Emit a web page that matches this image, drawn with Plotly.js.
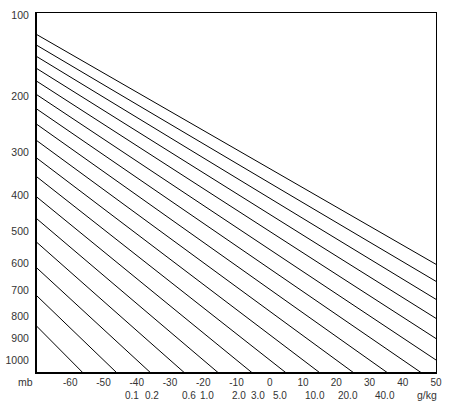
<!DOCTYPE html>
<html>
<head>
<meta charset="utf-8">
<script src="https://cdn.plot.ly/plotly-3.0.1.min.js"></script>
<style>html,body{margin:0;padding:0;background:#fff;}#chart{width:451px;height:406px;}</style>
</head>
<body>
<div id="chart"></div>
<script>
// Dry adiabats (potential temperature, deg C) drawn on the chart
const thetaC = [-60, -50, -40, -30, -20, -10, 0, 10, 20, 30, 40, 50, 60, 70, 80, 90, 100];
// Pressure axis ticks (mb)
const pressureTicks = [100, 200, 300, 400, 500, 600, 700, 800, 900, 1000];
const pressureLabels = ['100', '200', '300', '400', '500', '600', '700', '800', '900', '1000'];
// Temperature axis ticks (deg C)
const tempTicks = [-60, -50, -40, -30, -20, -10, 0, 10, 20, 30, 40, 50];
const tempLabels = ['-60', '-50', '-40', '-30', '-20', '-10', '0', '10', '20', '30', '40', '50'];
// Saturation mixing ratio labels (g/kg) and the temperature they sit under
const mixingRatioLabels = ['0.1', '0.2', '0.6', '1.0', '2.0', '3.0', '5.0', '10.0', '20.0', '40.0'];
const mixingRatioTemps = [-41.5, -35.5, -24.3, -19.0, -9.3, -3.6, 3.0, 13.5, 23.5, 34.6];
// Pressure levels sampled along each adiabat
const samplePressures = [90, 100, 200, 300, 400, 500, 600, 700, 800, 900, 1000, 1100];

const KAPPA = 0.286;
const toY = p => Math.pow(p, KAPPA);

const traces = thetaC.map(th => ({
  type: 'scatter',
  mode: 'lines',
  x: samplePressures.map(p => (th + 273.15) * Math.pow(p / 1000, KAPPA) - 273.15),
  y: samplePressures.map(toY),
  line: {color: '#000', width: 1},
  hoverinfo: 'skip',
  showlegend: false
}));

const font = {family: 'Liberation Sans, Arial, sans-serif', size: 10.5, color: '#333'};
const tickFontX = {family: 'Liberation Sans, Arial, sans-serif', size: 10, color: '#333'};
const smallFont = {family: 'Liberation Sans, Arial, sans-serif', size: 10, color: '#333'};

const annotations = mixingRatioLabels.map((t, i) => ({
  text: t, x: mixingRatioTemps[i], xref: 'x', y: -0.065, yref: 'paper',
  xanchor: 'center', yanchor: 'middle', showarrow: false, font: smallFont, borderpad: 0
}));
annotations.push({text: 'mb', x: -0.03, xref: 'paper', y: -0.028, yref: 'paper',
  xanchor: 'center', yanchor: 'middle', showarrow: false, font: font, borderpad: 0});
annotations.push({text: 'g/kg', x: 0.978, xref: 'paper', y: -0.065, yref: 'paper',
  xanchor: 'center', yanchor: 'middle', showarrow: false, font: font, borderpad: 0});

const layout = {
  width: 451, height: 406,
  margin: {l: 37, r: 15, t: 13, b: 34, pad: 0},
  paper_bgcolor: '#fff', plot_bgcolor: '#fff',
  showlegend: false,
  font: font,
  xaxis: {
    range: [-70, 50], tickvals: tempTicks, ticktext: tempLabels,
    showgrid: false, zeroline: false, showline: true, linecolor: '#000', linewidth: 2,
    mirror: false, ticks: '', ticklabelstandoff: 0, tickfont: tickFontX
  },
  xaxis2: {
    range: [-70, 50], overlaying: 'x', anchor: 'y', side: 'top',
    showgrid: false, zeroline: false, showline: true, linecolor: '#000', linewidth: 1,
    showticklabels: false, ticks: ''
  },
  yaxis: {
    range: [toY(1060), toY(97.6)], tickvals: pressureTicks.map(toY), ticktext: pressureLabels,
    showgrid: false, zeroline: false, showline: true, linecolor: '#000', linewidth: 2,
    ticks: '', ticklabelstandoff: 4, tickfont: font
  },
  yaxis2: {
    range: [toY(1060), toY(97.6)], overlaying: 'y', anchor: 'x', side: 'right',
    showgrid: false, zeroline: false, showline: true, linecolor: '#000', linewidth: 1,
    showticklabels: false, ticks: ''
  },
  annotations: annotations
};

traces.push({type: 'scatter', x: [-70], y: [toY(1000)], xaxis: 'x2', yaxis: 'y2',
  mode: 'markers', marker: {opacity: 0}, hoverinfo: 'skip', showlegend: false});

Plotly.newPlot('chart', traces, layout, {staticPlot: true, displayModeBar: false});
</script>
</body>
</html>
